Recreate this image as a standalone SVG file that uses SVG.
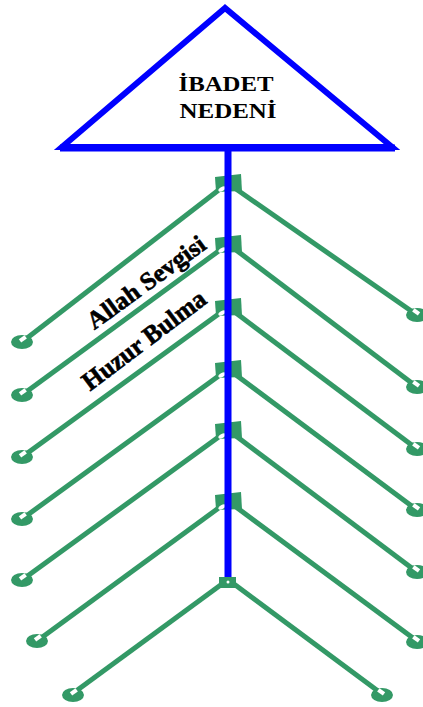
<svg xmlns="http://www.w3.org/2000/svg" width="423" height="707" viewBox="0 0 423 707">
<style>
.conn{stroke:#339966;stroke-width:5;fill:none;stroke-linecap:butt}
.end{fill:#339966}
.hole{fill:#ffffff}
.sq{fill:#339966}
.blue{stroke:#0000ff;fill:none}
.t{font-family:"Liberation Serif","Times New Roman",serif;font-weight:bold;fill:#000000}
.lbl{stroke:#000000;stroke-width:0.6}
</style>
<defs>
<g id="endL"><ellipse cx="0" cy="0" rx="11" ry="7" class="end"/><rect x="-1" y="-4" width="7" height="4" class="hole" transform="rotate(-36)"/></g>
<g id="endR"><ellipse cx="0" cy="0" rx="11" ry="7" class="end"/><rect x="-6" y="-4" width="7" height="4" class="hole" transform="rotate(36)"/></g>
<g id="sqn"><polygon points="-13,-6 13,-9 14,8 -12,9" class="sq"/><ellipse cx="-6" cy="6" rx="4" ry="2" class="hole" transform="rotate(-30 -6 6)"/><circle cx="0" cy="0" r="1.5" fill="#0000ff"/></g>
</defs>
<g id="connectors">
<line class="conn" x1="220" y1="189" x2="22" y2="342"/>
<line class="conn" x1="236" y1="189" x2="417" y2="315"/>
<line class="conn" x1="220" y1="250" x2="22" y2="395"/>
<line class="conn" x1="236" y1="250" x2="417" y2="387"/>
<line class="conn" x1="220" y1="313" x2="22" y2="457"/>
<line class="conn" x1="236" y1="313" x2="417" y2="449"/>
<line class="conn" x1="220" y1="375" x2="22" y2="519"/>
<line class="conn" x1="236" y1="375" x2="417" y2="510"/>
<line class="conn" x1="220" y1="436" x2="22" y2="580"/>
<line class="conn" x1="236" y1="436" x2="417" y2="572"/>
<line class="conn" x1="220" y1="507" x2="37" y2="641"/>
<line class="conn" x1="236" y1="507" x2="417" y2="641"/>
<line class="conn" x1="222" y1="584" x2="72" y2="694"/>
<line class="conn" x1="234" y1="584" x2="382" y2="694"/>
</g>
<g id="ends-left">
<use href="#endL" x="22" y="342"/>
<use href="#endL" x="22" y="395"/>
<use href="#endL" x="22" y="457"/>
<use href="#endL" x="22" y="519"/>
<use href="#endL" x="22" y="580"/>
<use href="#endL" x="37" y="641"/>
<use href="#endL" x="73" y="695"/>
</g>
<g id="ends-right">
<use href="#endR" x="417" y="315"/>
<use href="#endR" x="417" y="387"/>
<use href="#endR" x="417" y="449"/>
<use href="#endR" x="417" y="510"/>
<use href="#endR" x="417" y="572"/>
<use href="#endR" x="417" y="642"/>
<use href="#endR" x="382" y="695"/>
</g>
<g id="node1"><use href="#sqn" x="228" y="183"/></g>
<g id="node2"><use href="#sqn" x="228" y="244"/></g>
<g id="node3"><use href="#sqn" x="228" y="307"/></g>
<g id="node4"><use href="#sqn" x="228" y="369"/></g>
<g id="node5"><use href="#sqn" x="228" y="430"/></g>
<g id="node6"><use href="#sqn" x="228" y="501"/></g>
<g id="node7"><polygon points="219,577 236,577 236,588 219,588" class="sq"/><circle cx="228" cy="582" r="1.5" fill="#ffffff"/></g>
<g id="spine"><line class="blue" x1="228" y1="148" x2="228" y2="577" stroke-width="7"/></g>
<g id="title">
<polygon class="blue" points="225,8 62,147 392,147" stroke-width="6" stroke-linejoin="miter"/>
<line class="blue" x1="60" y1="148" x2="395" y2="148" stroke-width="7"/>
<text class="t" x="226" y="91" font-size="22" text-anchor="middle" textLength="95" lengthAdjust="spacingAndGlyphs">İBADET</text>
<text class="t" x="228" y="118" font-size="22" text-anchor="middle" textLength="97" lengthAdjust="spacingAndGlyphs">NEDENİ</text>
</g>
<g id="label1"><text class="t lbl" font-size="25" text-anchor="middle" textLength="140" lengthAdjust="spacingAndGlyphs" transform="translate(151,289) rotate(-36)">Allah Sevgisi</text></g>
<g id="label2"><text class="t lbl" font-size="26" text-anchor="middle" textLength="148" lengthAdjust="spacingAndGlyphs" transform="translate(149,347) rotate(-37)">Huzur Bulma</text></g>
</svg>
